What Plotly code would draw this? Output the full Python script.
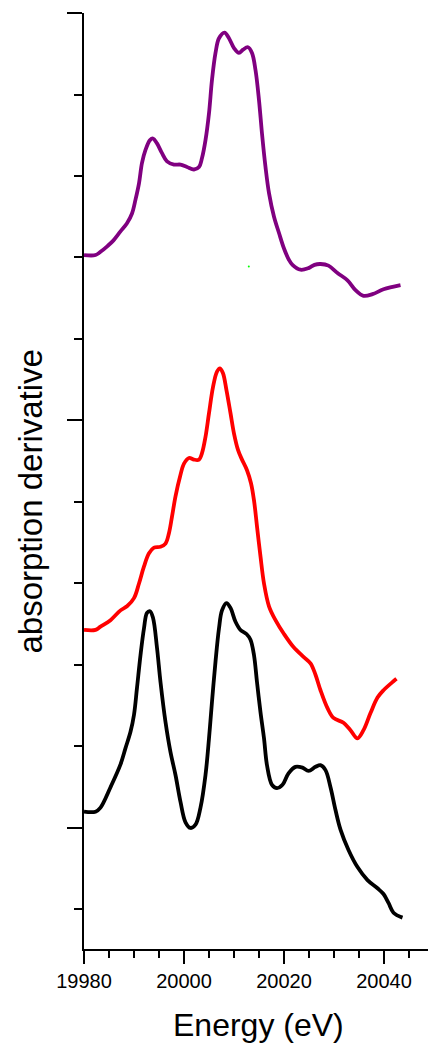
import plotly.graph_objects as go

# Energy grid (eV) and offset derivative spectra for the three samples
purple_e = [19980.0, 19982.3, 19983.3, 19984.7, 19985.9, 19987.3, 19988.6, 19989.6, 19990.3,
            19991.0, 19991.6, 19992.3, 19993.2, 19993.8, 19994.6, 19995.6, 19996.6, 19998.0,
            19999.3, 20000.6, 20002.0, 20003.0, 20003.6, 20004.3, 20005.0, 20005.6, 20006.3,
            20007.0, 20008.1, 20009.0, 20010.0, 20011.0, 20011.8, 20012.8, 20013.6, 20014.3,
            20015.0, 20015.6, 20016.3, 20017.0, 20018.0, 20019.0, 20020.0, 20021.0, 20021.7,
            20023.3, 20024.9, 20026.1, 20027.3, 20028.9, 20030.7, 20032.7, 20034.3, 20035.9,
            20037.7, 20039.9, 20043.3]
purple_y = [7.03, 7.03, 7.07, 7.14, 7.21, 7.32, 7.42, 7.54, 7.71,
            7.91, 8.16, 8.32, 8.44, 8.46, 8.40, 8.28, 8.18, 8.14,
            8.14, 8.11, 8.08, 8.11, 8.22, 8.44, 8.77, 9.18, 9.51,
            9.69, 9.76, 9.69, 9.57, 9.51, 9.55, 9.58, 9.51, 9.30,
            8.93, 8.52, 8.11, 7.79, 7.50, 7.30, 7.11, 6.97, 6.91,
            6.85, 6.87, 6.91, 6.92, 6.90, 6.81, 6.72, 6.60, 6.53,
            6.55, 6.61, 6.66]

red_e = [19980.0, 19982.3, 19983.3, 19985.3, 19987.3, 19988.6, 19990.0, 19991.0, 19992.0,
         19993.0, 19994.0, 19995.3, 19996.3, 19997.0, 19997.6, 19998.3, 19999.2, 20000.0,
         20001.0, 20002.0, 20003.0, 20003.6, 20004.3, 20005.0, 20005.8, 20006.6, 20007.2,
         20007.8, 20008.5, 20009.3, 20010.0, 20010.8, 20011.6, 20012.6, 20013.4, 20014.0,
         20014.6, 20015.3, 20016.0, 20017.0, 20018.3, 20020.0, 20021.9, 20023.9, 20025.3,
         20026.3, 20027.3, 20028.7, 20029.9, 20031.9, 20033.3, 20034.7, 20035.9, 20037.3,
         20038.7, 20039.9, 20041.9, 20042.5]
red_y = [2.43, 2.43, 2.47, 2.55, 2.67, 2.72, 2.82, 3.00, 3.21,
         3.37, 3.44, 3.45, 3.49, 3.62, 3.82, 4.07, 4.31, 4.47,
         4.54, 4.52, 4.52, 4.60, 4.80, 5.09, 5.41, 5.60, 5.64,
         5.58, 5.37, 5.09, 4.84, 4.64, 4.52, 4.39, 4.23, 4.02,
         3.70, 3.33, 3.00, 2.72, 2.55, 2.38, 2.22, 2.10, 2.02,
         1.88, 1.69, 1.47, 1.35, 1.29, 1.20, 1.10, 1.20, 1.41,
         1.60, 1.69, 1.80, 1.83]

black_e = [19980.0, 19982.3, 19983.3, 19985.3, 19987.3, 19988.3, 19989.3, 19990.0, 19990.6,
           19991.3, 19992.0, 19992.6, 19993.2, 19993.8, 19994.6, 19995.3, 19996.3, 19997.3,
           19998.3, 19999.3, 20000.3, 20001.3, 20002.3, 20003.3, 20004.3, 20005.0, 20005.6,
           20006.3, 20007.0, 20007.6, 20008.5, 20009.3, 20010.3, 20011.3, 20012.5, 20013.3,
           20014.0, 20014.6, 20015.3, 20016.0, 20016.6, 20017.6, 20018.6, 20019.7, 20020.9,
           20022.3, 20023.7, 20024.9, 20026.3, 20027.3, 20028.3, 20029.3, 20030.3, 20031.3,
           20032.9, 20034.7, 20036.7, 20038.7, 20039.9, 20040.9, 20041.9, 20043.7]
black_y = [0.20, 0.20, 0.25, 0.50, 0.78, 0.98, 1.18, 1.39, 1.72,
           2.12, 2.45, 2.64, 2.66, 2.58, 2.21, 1.79, 1.30, 0.93,
           0.65, 0.32, 0.07, 0.00, 0.04, 0.25, 0.65, 1.10, 1.55,
           2.04, 2.45, 2.67, 2.76, 2.70, 2.53, 2.43, 2.38, 2.31,
           2.12, 1.79, 1.42, 1.10, 0.77, 0.53, 0.49, 0.53, 0.67,
           0.75, 0.74, 0.70, 0.75, 0.77, 0.71, 0.50, 0.22, -0.02,
           -0.27, -0.48, -0.64, -0.74, -0.81, -0.92, -1.04, -1.10]

# stray single marker point
marker_e = [20012.96]
marker_y = [6.89]

x_ticks = [19980, 20000, 20020, 20040]

FONT = "Liberation Sans, Arial, sans-serif"

fig = go.Figure()
for xs, ys, col in [(purple_e, purple_y, "#800080"),
                    (red_e, red_y, "#ff0000"),
                    (black_e, black_y, "#000000")]:
    fig.add_trace(go.Scatter(x=xs, y=ys, mode="lines",
                             line=dict(color=col, width=3.8, shape="spline", smoothing=1.0),
                             showlegend=False, hoverinfo="skip"))

fig.add_trace(go.Scatter(x=marker_e, y=marker_y, mode="markers",
                         marker=dict(color="#00ff00", size=2, line=dict(width=0)),
                         showlegend=False, hoverinfo="skip"))

fig.update_layout(
    width=428, height=1044,
    margin=dict(l=84, r=0, t=13, b=95),
    paper_bgcolor="white", plot_bgcolor="white",
    font=dict(family=FONT, color="black"),
    xaxis=dict(
        range=[19980, 20048.8],
        tickmode="array", tickvals=x_ticks, ticktext=[str(v) for v in x_ticks],
        ticks="outside", ticklen=13, tickwidth=2, tickcolor="black",
        showline=True, linecolor="black", linewidth=2,
        showgrid=False, zeroline=False,
        tickfont=dict(size=20, family=FONT, color="black"),
        minor=dict(dtick=5, tick0=19980, ticks="outside", ticklen=7,
                   tickwidth=2, tickcolor="black", showgrid=False),
    ),
    yaxis=dict(
        range=[-1.485, 10.0],
        tick0=0, dtick=5,
        ticks="outside", ticklen=15, tickwidth=2, tickcolor="black",
        showticklabels=False,
        showline=True, linecolor="black", linewidth=2,
        showgrid=False, zeroline=False,
        minor=dict(dtick=1, tick0=0, ticks="outside", ticklen=8,
                   tickwidth=2, tickcolor="black", showgrid=False),
    ),
    annotations=[
        dict(text="absorption derivative", textangle=-90,
             xref="paper", yref="paper", x=-0.1555, y=0.4786,
             xanchor="center", yanchor="middle", showarrow=False,
             borderpad=0,
             font=dict(size=33, family=FONT, color="black")),
        dict(text="Energy (eV)",
             xref="paper", yref="paper", x=0.508, y=-0.0815,
             xanchor="center", yanchor="middle", showarrow=False,
             borderpad=0,
             font=dict(size=32, family=FONT, color="black")),
    ],
)

fig.write_html("out.html")
